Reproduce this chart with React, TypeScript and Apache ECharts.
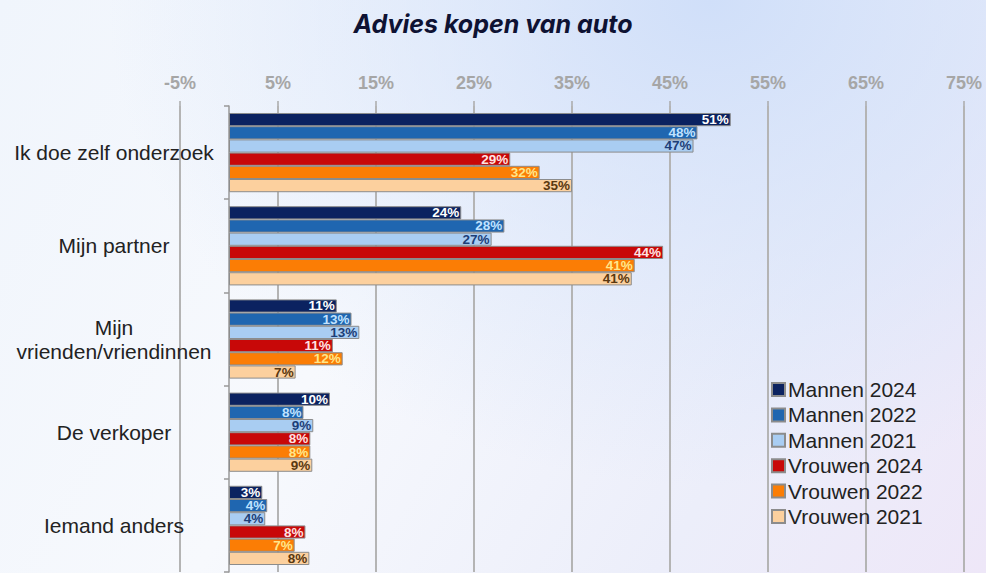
import React, { useEffect, useRef } from 'react';
import * as echarts from 'echarts';

const categories = [
  'Ik doe zelf onderzoek',
  'Mijn partner',
  'Mijn\nvrienden/vriendinnen',
  'De verkoper',
  'Iemand anders',
];
const seriesNames = ['Mannen 2024', 'Mannen 2022', 'Mannen 2021', 'Vrouwen 2024', 'Vrouwen 2022', 'Vrouwen 2021'];
const mannen2024 = [51.2, 23.7, 11.0, 10.3, 3.4];
const mannen2022 = [47.8, 28.1, 12.5, 7.6, 3.9];
const mannen2021 = [47.4, 26.8, 13.3, 8.6, 3.7];
const vrouwen2024 = [28.7, 44.3, 10.6, 8.3, 7.8];
const vrouwen2022 = [31.7, 41.4, 11.6, 8.3, 6.7];
const vrouwen2021 = [35.0, 41.1, 6.8, 8.5, 8.2];
const seriesData = [mannen2024, mannen2022, mannen2021, vrouwen2024, vrouwen2022, vrouwen2021];
const barColors = ['#0b2260', '#1f66b0', '#a9cdf2', '#c80808', '#fb7d05', '#fcd09e'];
const labelColors = ['#ffffff', '#bfe2ff', '#1d3f78', '#ffe2e2', '#ffe68a', '#5a3810'];
const axisMin = -5;
const axisMax = 75;
const axisStep = 10;

export default function App() {
  const ref = useRef<HTMLDivElement>(null);
  useEffect(() => {
    if (!ref.current) return;
    const chart = echarts.init(ref.current, null, { renderer: 'svg' });
    chart.setOption({
      animation: false,
      title: {
        text: 'Advies kopen van auto',
        left: 'center',
        top: 6,
        textStyle: {
          fontFamily: 'Inter, "Noto Sans", sans-serif',
          fontSize: 25,
          fontWeight: 'bold',
          fontStyle: 'italic',
          color: '#0e1233',
        },
      },
      legend: {
        orient: 'vertical',
        left: 771,
        top: 379,
        itemWidth: 13,
        itemHeight: 13,
        itemGap: 4.4,
        padding: 0,
        icon: 'rect',
        data: seriesNames,
        textStyle: {
          fontFamily: '"Liberation Sans", Arial, sans-serif',
          fontSize: 21,
          lineHeight: 20,
          color: '#222222',
          padding: [0, 0, 0, -2],
        },
      },
      grid: { left: 180, right: 22, top: 106, bottom: 1, containLabel: false, outerBoundsMode: 'none' },
      xAxis: {
        type: 'value',
        position: 'top',
        min: axisMin,
        max: axisMax,
        interval: axisStep,
        axisLine: { show: false },
        axisTick: { show: true, length: 5, lineStyle: { color: '#aaaaaa', width: 1.5 } },
        splitLine: { show: true, lineStyle: { color: '#b4b4b4', width: 2 } },
        axisLabel: {
          margin: 14,
          color: '#a6a6a6',
          fontFamily: '"Liberation Sans", Arial, sans-serif',
          fontWeight: 'bold',
          fontSize: 18,
          formatter: (v: number) => `${v}%`,
        },
      },
      yAxis: {
        type: 'category',
        inverse: true,
        data: categories,
        axisLine: { show: true, onZero: true, lineStyle: { color: '#999999', width: 1.5 } },
        axisTick: { show: true, length: 5, lineStyle: { color: '#999999', width: 1.5 } },
        axisLabel: {
          align: 'center',
          margin: 66,
          color: '#222222',
          fontFamily: '"Liberation Sans", Arial, sans-serif',
          fontSize: 21,
          lineHeight: 24,
        },
      },
      series: seriesNames.map((name, i) => ({
        name,
        type: 'bar',
        data: seriesData[i],
        barGap: '0%',
        barCategoryGap: '15%',
        itemStyle: { color: barColors[i], borderColor: '#8c8c8c', borderWidth: 1 },
        label: {
          show: true,
          position: 'insideRight',
          distance: 2,
          color: labelColors[i],
          fontFamily: '"Liberation Sans", Arial, sans-serif',
          fontWeight: 'bold',
          fontSize: 13.5,
          formatter: (p: any) => `${Math.round(p.value)}%`,
        },
      })),
    });
    return () => chart.dispose();
  }, []);
  return (
    <div
      style={{
        position: 'fixed',
        left: 0,
        top: 0,
        width: 986,
        height: 573,
        background:
          'radial-gradient(ellipse at 72% 0%, rgba(208,223,249,1) 0%, rgba(208,223,249,0) 60%), linear-gradient(120deg, #f0f5fc 0%, #f7f9fd 40%, #eceefa 75%, #eee7f8 100%)',
      }}
    >
      <div ref={ref} style={{ width: 986, height: 573 }} />
    </div>
  );
}
